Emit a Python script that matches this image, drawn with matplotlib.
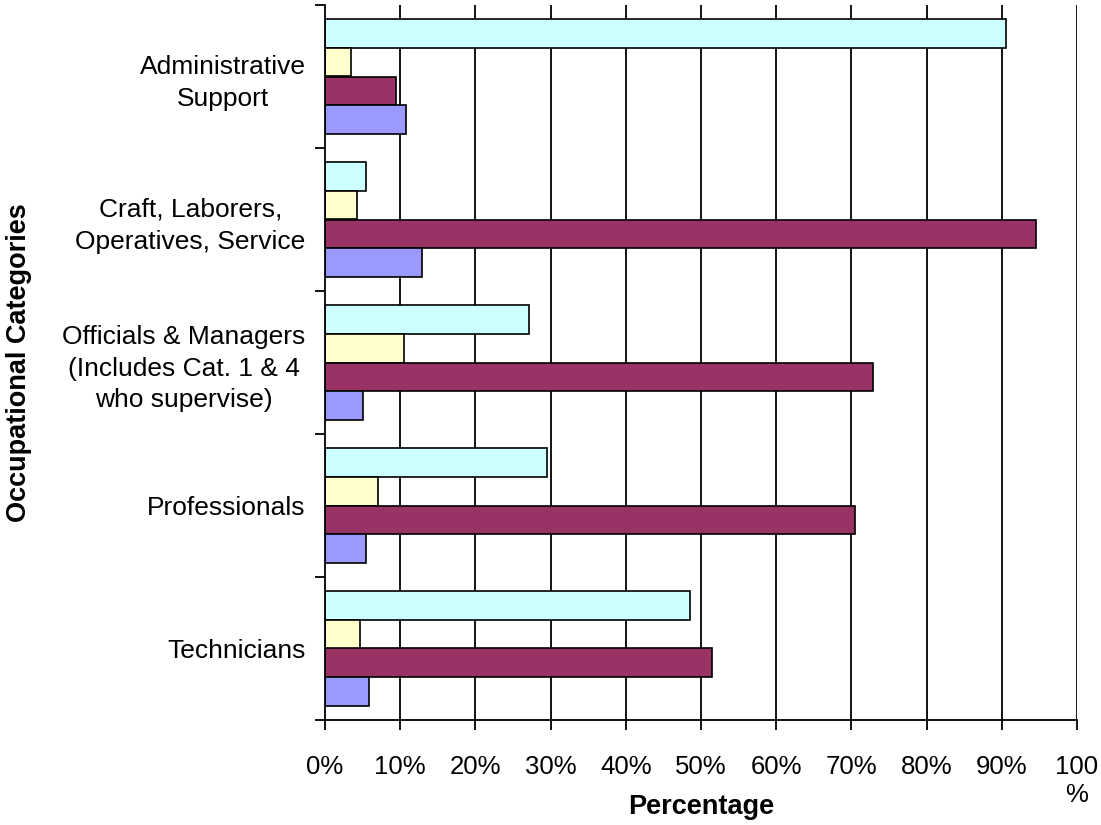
import numpy as np
import matplotlib
matplotlib.use("Agg")
import matplotlib.pyplot as plt

plt.rcParams['font.family'] = ['Liberation Sans', 'DejaVu Sans']

# categories, top to bottom
categories = [
    "Administrative\nSupport",
    "Craft, Laborers,\nOperatives, Service",
    "Officials & Managers\n(Includes Cat. 1 & 4\nwho supervise)",
    "Professionals",
    "Technicians",
]

# four series per category (percent), drawn top to bottom in each group
series_cyan = [90.5, 5.4, 27.1, 29.5, 48.6]
series_yellow = [3.5, 4.3, 10.5, 7.0, 4.7]
series_maroon = [9.5, 94.6, 72.9, 70.5, 51.4]
series_blue = [10.8, 12.9, 5.1, 5.4, 5.9]

x_ticks = [0, 10, 20, 30, 40, 50, 60, 70, 80, 90, 100]
x_tick_labels = ["0%", "10%", "20%", "30%", "40%", "50%", "60%", "70%",
                 "80%", "90%", "100\n%"]

colors = ["#CCFFFF", "#FFFFCC", "#993366", "#9999FF"]
all_series = [series_cyan, series_yellow, series_maroon, series_blue]

fig = plt.figure(figsize=(11.01, 8.25), dpi=100)
ax = fig.add_axes([325 / 1101, 105 / 825, 752 / 1101, 715 / 825])

y = np.arange(len(categories))
bar_h = 0.2
for j, (vals, col) in enumerate(zip(all_series, colors)):
    ax.barh(y + (j - 1.5) * bar_h, vals, height=bar_h, color=col,
            edgecolor="black", linewidth=1.2, zorder=3)

# vertical gridlines
for xt in x_ticks[1:]:
    ax.axvline(xt, color="black", linewidth=1.3, zorder=1)

ax.set_xlim(0, 100)
ax.set_ylim(len(categories) - 0.5, -0.5)

ax.set_xticks(x_ticks)
ax.set_xticklabels(x_tick_labels, fontsize=18.5, linespacing=1.2)
ax.tick_params(axis="x", direction="out", length=7, width=1.3, pad=18)

ax.set_yticks(y)
ax.set_yticklabels(categories, fontsize=19, linespacing=1.4,
                   multialignment="center")
ax.tick_params(axis="y", which="major", length=0, pad=14)
ax.set_yticks(np.arange(len(categories) + 1) - 0.5, minor=True)
ax.tick_params(axis="y", which="minor", direction="out", length=7, width=1.3)

for side in ["top", "right"]:
    ax.spines[side].set_visible(False)
for side in ["left", "bottom"]:
    ax.spines[side].set_linewidth(1.3)
    ax.spines[side].set_zorder(4)

ax.set_xlabel("Percentage", fontsize=19.5, fontweight="bold")
ax.xaxis.set_label_coords(0.5, -0.104)
ax.set_ylabel("Occupational Categories", fontsize=19.5, fontweight="bold")
ax.yaxis.set_label_coords(-0.39, 0.5)

fig.savefig("out.png", dpi=100, facecolor="white")
plt.close()
